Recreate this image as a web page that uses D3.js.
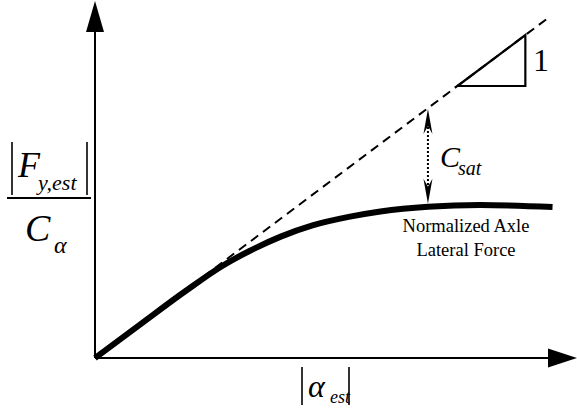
<!DOCTYPE html>
<html lang="en">
<head>
  <meta charset="UTF-8">
  <title>Normalized Axle Lateral Force</title>
  <script src="https://d3js.org/d3.v7.min.js"></script>
  <style>
    body { margin: 0; background: #fff; }
    svg text { font-family: "Liberation Serif", "Times New Roman", serif; fill: #000; }
    .it { font-style: italic; }
  </style>
</head>
<body>
  <div id="chart"></div>

  <script>
    // normalized axle lateral force vs slip angle
    var alphaVals = [0, 1, 2, 2.8, 3.4, 4.1, 4.8, 5.6, 6.3, 7.35, 8.5, 10.1];
    var forceVals = [0, 0.99, 1.97, 2.7, 3.14, 3.57, 3.9, 4.15, 4.31, 4.45, 4.5, 4.44];

    // linear (unsaturated) reference line, slope 1
    var lineAlpha = [0, 10];
    var lineForce = [0, 10];

    // slope triangle
    var triAlpha = [8, 9.5, 9.5];
    var triForce = [8, 9.5, 8];

    // C_sat gap position
    var satAlpha = 7.35;

    var width = 577, height = 408;
    var serif = "'Liberation Serif', 'Times New Roman', serif";

    var svg = d3.select("#chart").append("svg")
      .attr("width", width)
      .attr("height", height);

    var x = d3.scaleLinear().domain([0, 10]).range([95, 548]);
    var y = d3.scaleLinear().domain([0, 10]).range([358, 18]);

    // axes with arrow heads
    var x0 = x(0), y0 = y(0);
    svg.append("line")
      .attr("x1", x0).attr("y1", y0)
      .attr("x2", x.range()[1] + 2).attr("y2", y0)
      .attr("stroke", "#000").attr("stroke-width", 2);
    svg.append("path")
      .attr("d", "M" + (width) + "," + y0 + " L" + (width - 29) + "," + (y0 - 9.5) + " L" + (width - 29) + "," + (y0 + 9.5) + " Z")
      .attr("fill", "#000");

    svg.append("line")
      .attr("x1", x0).attr("y1", y0)
      .attr("x2", x0).attr("y2", 30)
      .attr("stroke", "#000").attr("stroke-width", 2);
    svg.append("path")
      .attr("d", "M" + x0 + ",1 L" + (x0 - 9) + ",32 L" + (x0 + 9) + ",32 Z")
      .attr("fill", "#000");

    // dashed slope line
    svg.append("line")
      .attr("x1", x(lineAlpha[0])).attr("y1", y(lineForce[0]))
      .attr("x2", x(lineAlpha[1])).attr("y2", y(lineForce[1]))
      .attr("stroke", "#000").attr("stroke-width", 2)
      .attr("stroke-dasharray", "9,6");

    // slope triangle
    var tri = triAlpha.map(function(a, i) { return [x(a), y(triForce[i])]; });
    svg.append("path")
      .attr("d", d3.line()(tri) + "Z")
      .attr("fill", "none").attr("stroke", "#000").attr("stroke-width", 2.2);
    svg.append("text")
      .attr("font-family", serif)
      .attr("x", 533).attr("y", 71)
      .attr("font-size", 32)
      .text("1");

    // force curve
    var pts = alphaVals.map(function(a, i) { return [x(a), y(forceVals[i])]; });
    svg.append("path")
      .attr("d", d3.line().curve(d3.curveMonotoneX)(pts))
      .attr("fill", "none").attr("stroke", "#000").attr("stroke-width", 6);

    // C_sat double arrow
    var satIdx = alphaVals.indexOf(satAlpha);
    var ax = x(satAlpha);
    var aTop = y(satAlpha) + 1;
    var aBot = y(forceVals[satIdx]) - 3;
    svg.append("line")
      .attr("x1", ax).attr("y1", aTop + 14)
      .attr("x2", ax).attr("y2", aBot - 14)
      .attr("stroke", "#000").attr("stroke-width", 2)
      .attr("stroke-dasharray", "2,2");
    svg.append("path")
      .attr("d", "M" + ax + "," + aTop + " L" + (ax - 4.5) + "," + (aTop + 25) + " L" + ax + "," + (aTop + 17) + " L" + (ax + 4.5) + "," + (aTop + 25) + " Z")
      .attr("fill", "#000");
    svg.append("path")
      .attr("d", "M" + ax + "," + aBot + " L" + (ax - 4.5) + "," + (aBot - 25) + " L" + ax + "," + (aBot - 17) + " L" + (ax + 4.5) + "," + (aBot - 25) + " Z")
      .attr("fill", "#000");

    function itText(xp, yp, size, str) {
      svg.append("text").attr("class", "it")
        .attr("font-family", serif).attr("font-style", "italic")
        .attr("x", xp).attr("y", yp).attr("font-size", size).text(str);
    }

    itText(440, 167, 30, "C");
    itText(458, 175, 20, "sat");

    // curve label
    var lbl = svg.append("text").attr("text-anchor", "middle")
      .attr("font-family", serif).attr("font-size", 18.5);
    lbl.append("tspan").attr("x", 466).attr("y", 232).text("Normalized Axle");
    lbl.append("tspan").attr("x", 466).attr("y", 256).text("Lateral Force");

    // y axis label |F_y,est| / C_alpha
    function vbar(xp, y1, y2) {
      svg.append("line")
        .attr("x1", xp).attr("x2", xp).attr("y1", y1).attr("y2", y2)
        .attr("stroke", "#000").attr("stroke-width", 1.6);
    }
    vbar(12, 142, 195);
    vbar(87, 142, 195);
    itText(18, 177, 36, "F");
    itText(38, 190, 22, "y,est");
    svg.append("line")
      .attr("x1", 7).attr("x2", 91).attr("y1", 198).attr("y2", 198)
      .attr("stroke", "#000").attr("stroke-width", 2);
    itText(25, 241, 38, "C");
    itText(54, 253, 24, "\u03B1");

    // x axis label |alpha_est|
    vbar(302, 367, 405);
    vbar(349, 367, 405);
    itText(308, 397, 32, "\u03B1");
    itText(330, 403, 18, "est");
  </script>
</body>
</html>
